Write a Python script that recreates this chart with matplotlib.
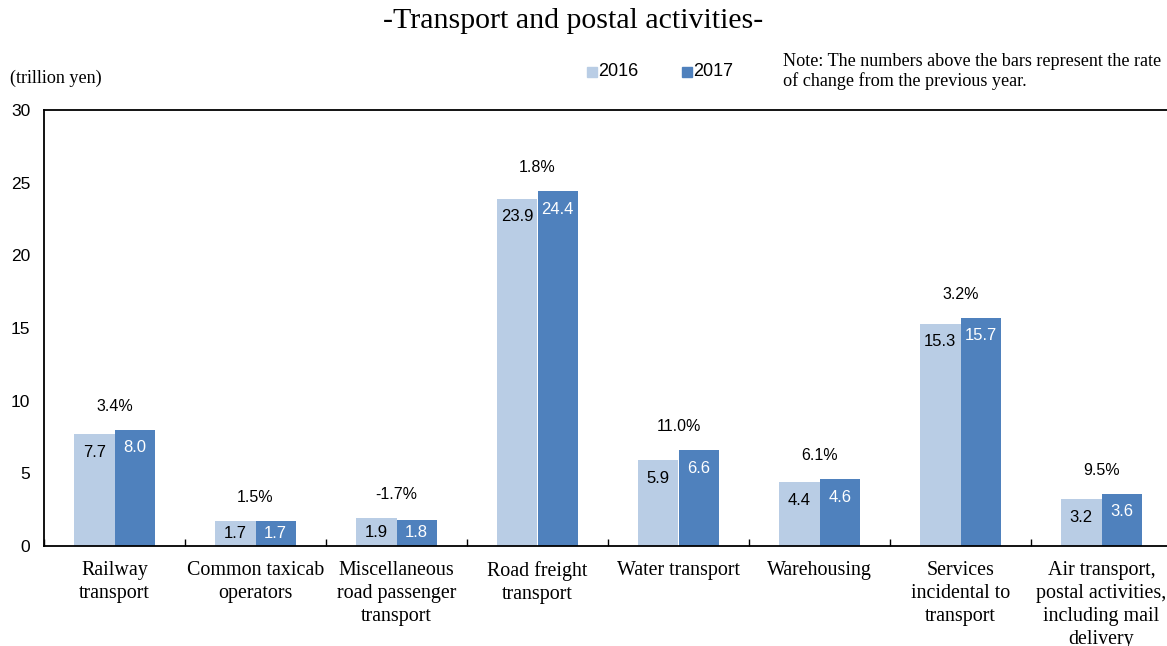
import matplotlib
matplotlib.use("Agg")
import matplotlib.pyplot as plt
import numpy as np
from matplotlib.patches import Rectangle

categories = ["Railway\ntransport", "Common taxicab\noperators",
              "Miscellaneous\nroad passenger\ntransport", "Road freight\ntransport",
              "Water transport", "Warehousing", "Services\nincidental to\ntransport",
              "Air transport,\npostal activities,\nincluding mail\ndelivery"]
values_2016 = [7.7, 1.7, 1.9, 23.9, 5.9, 4.4, 15.3, 3.2]
values_2017 = [8.0, 1.7, 1.8, 24.4, 6.6, 4.6, 15.7, 3.6]
rates = ["3.4%", "1.5%", "-1.7%", "1.8%", "11.0%", "6.1%", "3.2%", "9.5%"]
yticks = [0, 5, 10, 15, 20, 25, 30]

c16 = "#B9CDE5"
c17 = "#4F81BD"
serif = ["Liberation Serif", "DejaVu Serif"]
sans = ["Liberation Sans", "DejaVu Sans"]

W, H = 1167, 646
fig = plt.figure(figsize=(W / 100, H / 100), dpi=100)
ax = fig.add_axes([44 / W, 100 / H, 1128 / W, 436 / H])

x = np.arange(len(categories))
bw = 0.2857
ax.bar(x - bw / 2, values_2016, bw, color=c16, zorder=2)
ax.bar(x + bw / 2, values_2017, bw, color=c17, zorder=2)

ax.set_xlim(-0.5, 7.5)
ax.set_ylim(0, 30)
ax.set_yticks(yticks)
ax.set_yticklabels([str(t) for t in yticks], fontfamily=sans, fontsize=12.5)
ax.tick_params(axis="y", length=0, pad=10)

ax.set_xticks(np.arange(-0.5, 7.6, 1.0))
ax.set_xticklabels([])
ax.tick_params(axis="x", direction="in", length=5, width=1, color="black")
for i, c in enumerate(categories):
    ax.text(i, -1.05, c, ha="center", va="top", fontfamily=serif, fontsize=14.4,
            linespacing=1.27)

for s in ["top", "left", "bottom"]:
    ax.spines[s].set_linewidth(1.3)
    ax.spines[s].set_color("black")
ax.spines["right"].set_visible(False)

off = 18 / 436 * 30  # label offset below bar top, in data units
for i in range(len(categories)):
    v1, v2 = values_2016[i], values_2017[i]
    y1 = max(v1 - off, v1 / 2)
    y2 = max(v2 - off, v2 / 2)
    ax.text(x[i] - bw / 2, y1, f"{v1:.1f}", ha="center", va="center",
            fontfamily=sans, fontsize=12, color="black", zorder=3)
    ax.text(x[i] + bw / 2, y2, f"{v2:.1f}", ha="center", va="center",
            fontfamily=sans, fontsize=12, color="white", zorder=3)
    ax.annotate(rates[i], (x[i], max(v1, v2)), xytext=(0, 17), textcoords="offset points",
                ha="center", va="center", fontfamily=sans, fontsize=11.5, color="black")

fig.text(573 / W, 1 - 21 / H, "-Transport and postal activities-", ha="center", va="center",
         fontfamily=serif, fontsize=21.5)
fig.text(10 / W, 1 - 78 / H, "(trillion yen)", ha="left", va="center",
         fontfamily=serif, fontsize=13.1)
fig.text(783 / W, 1 - 62 / H, "Note: The numbers above the bars represent the rate",
         ha="left", va="center", fontfamily=serif, fontsize=13.1)
fig.text(783 / W, 1 - 81 / H, "of change from the previous year.",
         ha="left", va="center", fontfamily=serif, fontsize=13.1)

for px, col, lab in [(592, c16, "2016"), (687, c17, "2017")]:
    fig.patches.append(Rectangle(((px - 5) / W, 1 - 77 / H), 10 / W, 10 / H,
                                 transform=fig.transFigure, color=col))
    fig.text((px + 6) / W, 1 - 72 / H, lab, ha="left", va="center",
             fontfamily=sans, fontsize=13)

fig.savefig("out.png", dpi=100)
